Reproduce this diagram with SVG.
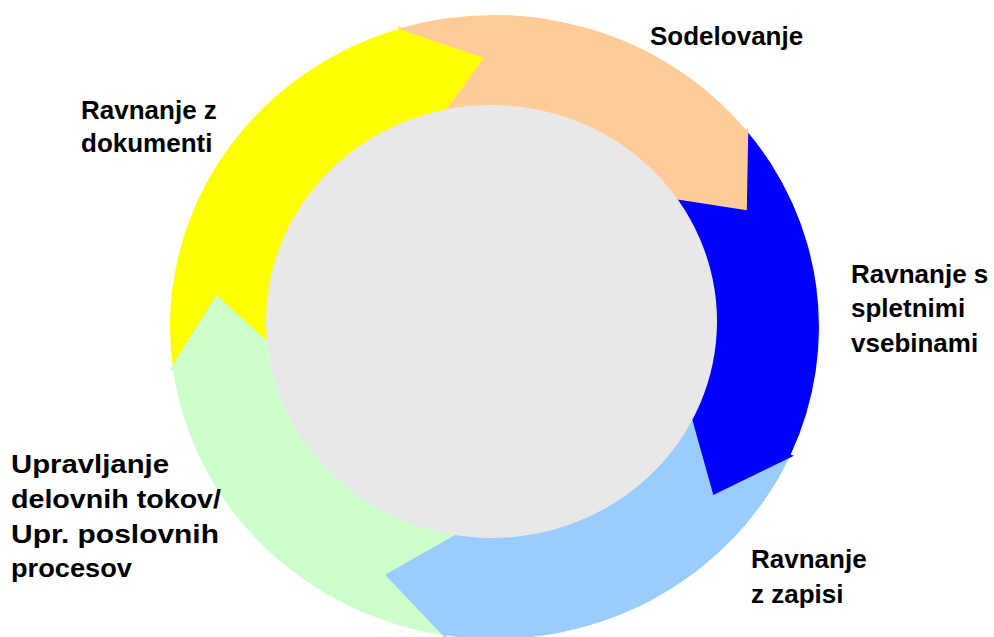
<svg xmlns="http://www.w3.org/2000/svg" width="994" height="637" viewBox="0 0 994 637">
  <style>
    .label { font-family: "Liberation Sans", Arial, sans-serif; font-weight: bold; font-size: 26px; fill: #000000; }
    .arrow { stroke: none; }
  </style>
  <rect width="994" height="637" fill="#ffffff"/>

  <!-- ring of five curved arrows, clockwise; each tail is notched to fit the previous head -->
  <g id="step-documents">
    <path class="arrow" fill="#FFFF00" d="M 173.08 369.88 A 324.5 312 0 0 1 398.54 28.95 L 397.51 25.73 L 484.73 57.94 L 431.22 130.44 A 214 205.76 0 0 0 282.53 355.28 L 216.24 296.99 Z"/>
    <text class="label" x="81" y="119">Ravnanje z</text>
    <text class="label" x="81" y="152">dokumenti</text>
  </g>

  <g id="step-workflow">
    <path class="arrow" fill="#CCFFCC" d="M 446.54 635.57 A 324.5 312 0 0 1 173.08 369.88 L 169.61 370.34 L 216.47 295.12 L 282.53 355.28 A 214 205.76 0 0 0 462.87 530.50 L 386.90 575.55 Z"/>
    <text class="label" x="11" y="473" textLength="158" lengthAdjust="spacingAndGlyphs">Upravljanje</text>
    <text class="label" x="11" y="508" textLength="210" lengthAdjust="spacingAndGlyphs">delovnih tokov/</text>
    <text class="label" x="11" y="543" textLength="208" lengthAdjust="spacingAndGlyphs">Upr. poslovnih</text>
    <text class="label" x="11" y="577" textLength="121" lengthAdjust="spacingAndGlyphs">procesov</text>
  </g>

  <g id="step-records">
    <path class="arrow" fill="#99CCFF" d="M 790.71 454.40 A 324.5 312 0 0 1 446.54 635.57 L 446.02 638.91 L 385.10 574.82 L 462.87 530.50 A 214 205.76 0 0 0 689.85 411.02 L 714.54 493.49 Z"/>
    <text class="label" x="751" y="568">Ravnanje</text>
    <text class="label" x="751" y="603">z zapisi</text>
  </g>

  <g id="step-web-content">
    <path class="arrow" fill="#0000FF" d="M 745.61 129.39 A 324.5 312 0 0 1 790.71 454.40 L 793.91 455.77 L 713.33 494.96 L 689.85 411.02 A 214 205.76 0 0 0 660.10 196.68 L 745.95 208.56 Z"/>
    <text class="label" x="851" y="283">Ravnanje s</text>
    <text class="label" x="851" y="317">spletnimi</text>
    <text class="label" x="851" y="352">vsebinami</text>
  </g>

  <g id="step-collaboration">
    <path class="arrow" fill="#FFCC99" d="M 398.54 28.95 A 324.5 312 0 0 1 745.61 129.39 L 748.32 127.25 L 746.80 210.25 L 660.10 196.68 A 214 205.76 0 0 0 431.22 130.44 L 483.99 57.97 Z"/>
    <text class="label" x="650" y="45">Sodelovanje</text>
  </g>

  <!-- central disc -->
  <g id="hub">
    <ellipse cx="491.5" cy="321.5" rx="225.5" ry="216.5" fill="#E8E8E8"/>
  </g>
</svg>
